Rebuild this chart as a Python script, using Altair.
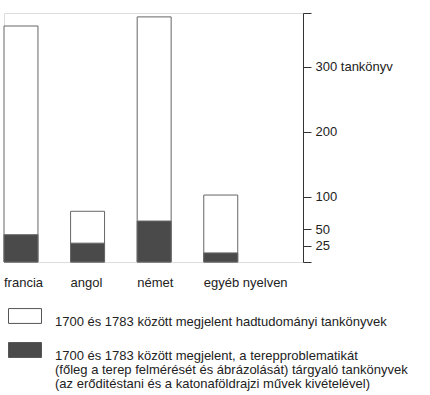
import altair as alt
import pandas as pd

languages = ["francia", "angol", "német", "egyéb nyelven"]
total_books = [363, 78, 377, 103]
terrain_books = [42, 29, 63, 14]

cat_all = "1700 és 1783 között megjelent hadtudományi tankönyvek"
cat_terrain = ("1700 és 1783 között megjelent, a terepproblematikát|"
               "(főleg a terep felmérését és ábrázolását) tárgyaló tankönyvek|"
               "(az erőditéstani és a katonaföldrajzi művek kivételével)")
categories = [cat_all, cat_terrain]
colors = ["#ffffff", "#4a4a4a"]

y_max = 383
y_ticks = [0, 25, 50, 100, 200, 300, y_max]

rows = []
for lang, v in zip(languages, total_books):
    rows.append({"nyelv": lang, "kat": cat_all, "db": v})
for lang, v in zip(languages, terrain_books):
    rows.append({"nyelv": lang, "kat": cat_terrain, "db": v})
df = pd.DataFrame(rows)

FONT = "Liberation Sans"
TXT = "#222222"

label_expr = (
    "datum.value == 300 ? '300 tankönyv' : "
    f"(datum.value == 0 || datum.value == {y_max}) ? '' : "
    "datum.value < 100 ? '\u2007' + datum.label : datum.label"
)

chart = alt.Chart(df).mark_bar(stroke="#666666", strokeWidth=1).encode(
    x=alt.X("nyelv:N", sort=languages,
            scale=alt.Scale(paddingInner=0.49, paddingOuter=0.49, align=0),
            axis=alt.Axis(title=None, labelAngle=0, labelAlign="left", labelOffset=-17,
                          ticks=False, domain=False, labelPadding=14,
                          labelFontSize=13, labelColor=TXT, labelFont=FONT)),
    y=alt.Y("db:Q", stack=None,
            scale=alt.Scale(domain=[0, y_max], nice=False, zero=True),
            axis=alt.Axis(title=None, orient="right", values=y_ticks, labelExpr=label_expr,
                          grid=False, domainColor="#333333", tickColor="#333333",
                          tickSize=8, labelPadding=4, labelFontSize=13,
                          labelColor=TXT, labelFont=FONT, labelLimit=0)),
    color=alt.Color("kat:N",
                    scale=alt.Scale(domain=categories, range=colors),
                    legend=alt.Legend(title=None, orient="none", legendX=4, legendY=286,
                                      symbolType="M-1,-0.45H1V0.45H-1Z", symbolSize=1089,
                                      symbolStrokeColor="#555555", symbolStrokeWidth=1,
                                      symbolOpacity=1,
                                      labelExpr="split(datum.label, '|')",
                                      labelFontSize=13, labelFont=FONT, labelColor=TXT,
                                      labelBaseline="top", labelOffset=13,
                                      labelLimit=0, rowPadding=4, padding=0)),
).properties(
    width=299, height=249,
    padding={"left": 3, "top": 12, "right": 0, "bottom": 0},
).configure_view(stroke=None).configure(
    font=FONT, style={"guide-label": {"lineHeight": 14}}
)

chart.save("out.html", embed_options={"renderer": "svg", "actions": False})
